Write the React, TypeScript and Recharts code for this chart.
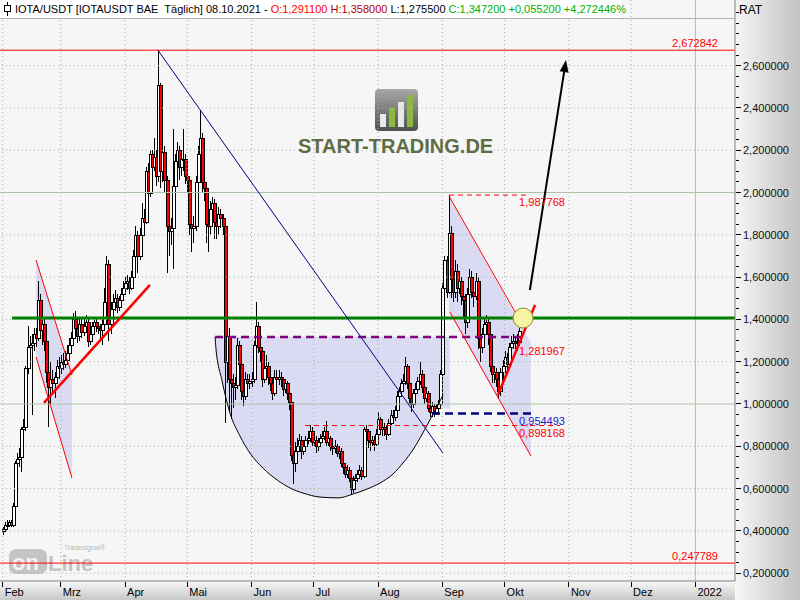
import React from 'react';
import {
  ComposedChart,
  Bar,
  Area,
  Line,
  XAxis,
  YAxis,
  ReferenceLine,
  ReferenceDot
} from 'recharts';

const FONT = '"Liberation Sans", Arial, sans-serif';

// day numbers count from 1 Jan 2021 = 0
const FIRST_DAY = 31;
const FIRST_OPEN = 0.4;

// daily candles, [high, low, close]; open = previous close
const feb = [
  [0.42, 0.38, 0.41], [0.44, 0.4, 0.43], [0.45, 0.42, 0.43], [0.45, 0.42, 0.44], [0.45, 0.42, 0.43],
  [0.53, 0.42, 0.52], [0.73, 0.51, 0.72], [0.77, 0.68, 0.74], [0.79, 0.7, 0.75], [0.89, 0.68, 0.88],
  [0.93, 0.84, 0.89], [1.18, 0.87, 1.17], [1.37, 1.14, 1.27], [1.32, 1.2, 1.28], [1.33, 0.95, 1.29],
  [1.36, 1.25, 1.33], [1.36, 1.27, 1.31], [1.58, 1.3, 1.49], [1.52, 1.32, 1.35], [1.42, 1.28, 1.38],
  [1.41, 1.25, 1.3], [1.32, 1.1, 1.15], [1.18, 0.89, 1.08], [1.2, 1.0, 1.12], [1.16, 1.05, 1.1],
  [1.15, 1.03, 1.13], [1.21, 1.1, 1.18], [1.22, 1.12, 1.17]
];
const mar = [
  [1.23, 1.14, 1.2], [1.24, 1.16, 1.19], [1.25, 1.17, 1.21], [1.28, 1.19, 1.24], [1.31, 1.21, 1.28],
  [1.34, 1.25, 1.31], [1.43, 1.29, 1.4], [1.44, 1.33, 1.36], [1.39, 1.29, 1.32], [1.41, 1.3, 1.38],
  [1.4, 1.31, 1.34], [1.4, 1.32, 1.37], [1.42, 1.34, 1.39], [1.4, 1.27, 1.3], [1.36, 1.28, 1.33],
  [1.39, 1.31, 1.37], [1.41, 1.35, 1.39], [1.4, 1.34, 1.37], [1.39, 1.33, 1.36], [1.38, 1.3, 1.35],
  [1.4, 1.28, 1.38], [1.55, 1.35, 1.48], [1.7, 1.45, 1.66], [1.68, 1.3, 1.38], [1.48, 1.33, 1.45],
  [1.52, 1.42, 1.48], [1.54, 1.44, 1.5], [1.52, 1.43, 1.46], [1.51, 1.44, 1.49], [1.55, 1.46, 1.52],
  [1.58, 1.5, 1.55]
];
const apr = [
  [1.6, 1.52, 1.57], [1.61, 1.54, 1.58], [1.6, 1.52, 1.55], [1.63, 1.54, 1.6], [1.73, 1.58, 1.7],
  [1.84, 1.67, 1.8], [1.82, 1.62, 1.7], [1.83, 1.68, 1.8], [1.95, 1.78, 1.88], [1.92, 1.8, 1.86],
  [2.12, 1.85, 2.1], [2.14, 1.96, 2.0], [2.2, 1.98, 2.18], [2.2, 2.05, 2.12], [2.26, 2.1, 2.17],
  [2.2, 2.03, 2.08], [2.6728, 2.05, 2.51], [2.52, 2.02, 2.1], [2.27, 2.05, 2.19], [2.22, 2.0, 2.06],
  [2.08, 1.62, 1.84], [1.9, 1.7, 1.82], [1.88, 1.75, 1.83], [2.3, 1.64, 2.03], [2.18, 1.99, 2.15],
  [2.24, 2.1, 2.2], [2.22, 2.06, 2.12], [2.19, 2.08, 2.16], [2.3, 2.1, 2.16], [2.18, 2.04, 2.08]
];
const may = [
  [2.11, 2.0, 2.06], [2.08, 1.8, 1.85], [1.9, 1.72, 1.83], [1.89, 1.76, 1.84], [2.08, 1.82, 2.05],
  [2.22, 2.02, 2.18], [2.39, 2.15, 2.26], [2.28, 2.0, 2.05], [2.1, 1.96, 2.02], [2.05, 1.76, 1.85],
  [1.9, 1.72, 1.84], [1.96, 1.8, 1.92], [1.98, 1.84, 1.95], [1.97, 1.78, 1.86], [1.89, 1.78, 1.84],
  [1.93, 1.8, 1.9], [1.92, 1.83, 1.88], [1.9, 1.8, 1.84], [1.86, 0.91, 1.2], [1.4, 1.1, 1.32],
  [1.36, 0.96, 1.12], [1.18, 0.93, 1.1], [1.14, 0.98, 1.08], [1.13, 1.02, 1.09], [1.31, 1.07, 1.28],
  [1.3, 1.15, 1.19], [1.2, 1.02, 1.06], [1.1, 0.99, 1.04], [1.15, 1.02, 1.12], [1.14, 1.06, 1.1],
  [1.14, 1.07, 1.11]
];
const jun = [
  [1.15, 1.08, 1.12], [1.3, 1.1, 1.28], [1.48, 1.26, 1.37], [1.39, 1.24, 1.27], [1.3, 1.2, 1.25],
  [1.27, 1.08, 1.12], [1.22, 1.1, 1.17], [1.23, 1.14, 1.18], [1.2, 1.09, 1.13], [1.16, 1.06, 1.1],
  [1.12, 1.02, 1.05], [1.16, 1.04, 1.13], [1.16, 1.09, 1.12], [1.16, 1.09, 1.13], [1.15, 1.08, 1.12],
  [1.13, 1.04, 1.07], [1.12, 1.05, 1.1], [1.11, 1.02, 1.05], [1.07, 0.97, 1.01], [1.02, 0.73, 0.76],
  [0.8, 0.62, 0.72], [0.82, 0.68, 0.78], [0.84, 0.75, 0.8], [0.86, 0.78, 0.83], [0.85, 0.74, 0.78],
  [0.83, 0.76, 0.8], [0.85, 0.79, 0.83], [0.87, 0.81, 0.84], [0.9, 0.82, 0.87], [0.89, 0.8, 0.82]
];
const jul = [
  [0.86, 0.8, 0.83], [0.85, 0.77, 0.8], [0.84, 0.78, 0.82], [0.86, 0.8, 0.84], [0.87, 0.82, 0.85],
  [0.89, 0.83, 0.87], [0.92, 0.8, 0.82], [0.86, 0.8, 0.84], [0.85, 0.78, 0.8], [0.82, 0.76, 0.79],
  [0.83, 0.77, 0.8], [0.81, 0.75, 0.77], [0.8, 0.74, 0.78], [0.79, 0.7, 0.72], [0.74, 0.67, 0.7],
  [0.71, 0.65, 0.67], [0.71, 0.65, 0.69], [0.7, 0.63, 0.65], [0.66, 0.57, 0.6], [0.66, 0.58, 0.64],
  [0.67, 0.61, 0.65], [0.69, 0.63, 0.67], [0.71, 0.65, 0.69], [0.7, 0.64, 0.66], [0.89, 0.65, 0.88],
  [0.9, 0.84, 0.87], [0.88, 0.79, 0.83], [0.85, 0.78, 0.82], [0.85, 0.8, 0.83], [0.85, 0.78, 0.81],
  [0.88, 0.8, 0.86]
];
const aug = [
  [0.96, 0.85, 0.93], [0.94, 0.86, 0.88], [0.91, 0.85, 0.89], [0.91, 0.85, 0.88], [0.9, 0.83, 0.86],
  [0.93, 0.85, 0.91], [0.97, 0.9, 0.95], [0.97, 0.91, 0.94], [0.99, 0.92, 0.97], [1.06, 0.96, 1.04],
  [1.08, 1.01, 1.06], [1.12, 1.04, 1.1], [1.14, 1.07, 1.11], [1.22, 1.09, 1.18], [1.19, 1.07, 1.1],
  [1.12, 1.0, 1.03], [1.05, 0.96, 1.0], [1.07, 0.98, 1.05], [1.1, 1.03, 1.07], [1.13, 1.05, 1.11],
  [1.2, 1.09, 1.14], [1.16, 1.05, 1.08], [1.1, 1.0, 1.03], [1.07, 1.01, 1.05], [1.06, 0.96, 0.98],
  [1.0, 0.94, 0.96], [1.01, 0.94, 0.99], [1.0, 0.94, 0.96], [1.0, 0.95, 0.98], [1.02, 0.95, 1.0],
  [1.16, 0.99, 1.14]
];
const sep = [
  [1.57, 1.13, 1.55], [1.7, 1.5, 1.68], [1.7, 1.5, 1.53], [1.9878, 1.52, 1.81], [1.84, 1.5, 1.59],
  [1.63, 1.48, 1.53], [1.68, 1.5, 1.63], [1.66, 1.48, 1.55], [1.62, 1.52, 1.58], [1.6, 1.47, 1.51],
  [1.55, 1.4, 1.49], [1.52, 1.33, 1.39], [1.55, 1.36, 1.52], [1.64, 1.48, 1.6], [1.63, 1.5, 1.53],
  [1.56, 1.46, 1.51], [1.62, 1.49, 1.58], [1.6, 1.26, 1.31], [1.36, 1.2, 1.27], [1.36, 1.24, 1.33],
  [1.41, 1.3, 1.38], [1.42, 1.34, 1.39], [1.41, 1.28, 1.33], [1.35, 1.15, 1.18], [1.21, 1.1, 1.14],
  [1.18, 1.1, 1.15], [1.17, 1.08, 1.12], [1.14, 1.03, 1.06], [1.17, 1.04, 1.15], [1.21, 1.12, 1.18]
];
const oct = [
  [1.25, 1.16, 1.22], [1.24, 1.16, 1.19], [1.29, 1.18, 1.27], [1.32, 1.25, 1.29], [1.33, 1.26, 1.3],
  [1.32, 1.26, 1.29], [1.33, 1.25, 1.2911], [1.358, 1.2755, 1.3472]
];

const monthTicks = [31, 59, 90, 120, 151, 181, 212, 243, 273, 304, 334, 365];
const monthLabels = ['Feb', 'Mrz', 'Apr', 'Mai', 'Jun', 'Jul', 'Aug', 'Sep', 'Okt', 'Nov', 'Dez', '2022'];
const priceLabels = [0.2, 0.4, 0.6, 0.8, 1.0, 1.2, 1.4, 1.6, 1.8, 2.0, 2.2, 2.4, 2.6];
const priceGrid = [0.2, 0.4, 0.6, 0.8, 1.2, 1.4, 1.6, 1.8, 2.2, 2.4, 2.6];
const priceSolid = [1.0, 2.0];

// drawn levels
const HIGH_2021 = 2.672842;
const LOW_LINE = 0.247789;
const RESISTANCE = 1.4066;
const NECKLINE = 1.317;
const SEP_HIGH = 1.987768;
const MID_LEVEL = 1.281967;
const SUPPORT_A = 0.954493;
const SUPPORT_B = 0.898168;
const LAST_DAY = 280;

// segments [[day, price], [day, price]]
const downTrend = [[105.9, 2.672], [243.3, 0.768]];
const riseLeft = [[50.9, 1.005], [102.0, 1.563]];
const riseRight = [[269.8, 1.043], [287.7, 1.468]];
const targetArrow = [[285.2, 1.539], [302.6, 2.626]];
const leftUpper = [[47.1, 1.681], [64.4, 1.137]];
const leftLower = [[47.1, 1.222], [64.4, 0.65]];
const rightUpper = [[246.2, 1.983], [283.0, 1.35]];
const rightLower = [[246.6, 1.435], [285.7, 0.754]];

// rounded bottom below the neckline: [day, price]
const bowl = [
  [133.4, 1.317], [133.8, 1.265], [136.7, 1.113], [140.6, 0.957], [145.4, 0.849],
  [150.2, 0.768], [156.5, 0.697], [163.3, 0.641], [169.5, 0.603], [175.8, 0.579],
  [184.0, 0.56], [192.7, 0.556], [199.9, 0.574], [206.7, 0.598], [212.9, 0.626],
  [219.2, 0.669], [224.0, 0.721], [228.8, 0.783], [233.6, 0.863], [237.5, 0.934],
  [240.4, 0.986], [243.3, 1.043]
];
// shaded strip between the end of the bowl and the September channel
const bowlTail = [[240.4, 0.986], [246.6, 0.975]];

const X_DOMAIN = [29.7, 384.1];
const Y_DOMAIN = [0.1631, 2.9102];

const candles: any[] = [];
{
  let prev = FIRST_OPEN;
  let d = FIRST_DAY;
  [feb, mar, apr, may, jun, jul, aug, sep, oct].forEach((m) =>
    m.forEach(([h, l, c]) => {
      candles.push({ d, o: prev, h, l, c });
      prev = c;
      d += 1;
    })
  );
}

const bowlData = bowl.map(([d, v]) => ({ d, lo: v, band: [v, NECKLINE] }));
const tailData = bowlTail.map(([d, v]) => ({ d, band: [v, NECKLINE] }));
const leftChannel = [
  { d: leftUpper[0][0], band: [leftLower[0][1], leftUpper[0][1]] },
  { d: leftUpper[1][0], band: [leftLower[1][1], leftUpper[1][1]] }
];
const rightChannel = [
  { d: rightUpper[0][0], band: [rightLower[0][1], rightUpper[0][1]] },
  { d: rightLower[1][0], band: [rightLower[1][1], 1.29] }
];

const seg = (s: number[][]) => [
  { x: s[0][0], y: s[0][1] },
  { x: s[1][0], y: s[1][1] }
];
const fmt = (v: number) => v.toFixed(6).replace('.', ',');

const minorTicks: number[] = [];
for (let i = 20; i <= 285; i += 5) minorTicks.push(i / 100);

const Candle = (props: any) => {
  const { x, y, width, height, payload } = props;
  if (x == null || !payload) return null;
  const { o, h, l, c } = payload;
  const cx = Math.round(x + width / 2) + 0.5;
  const top = Math.min(y, y + height);
  const span = Math.abs(height);
  const py = (v: number) => top + ((h - v) / (h - l)) * span;
  const b1 = Math.round(Math.min(py(o), py(c))) + 0.5;
  const b2 = Math.max(Math.round(Math.max(py(o), py(c))) + 0.5, b1 + 1);
  return (
    <g shapeRendering="crispEdges">
      <line x1={cx} x2={cx} y1={top} y2={top + span} stroke="#000" strokeWidth={1} />
      <rect x={cx - 1.5} y={b1} width={3} height={b2 - b1} fill={c >= o ? '#ffffff' : '#ff0000'} stroke="#000" strokeWidth={1} />
    </g>
  );
};

const YTick = (props: any) => {
  const { x, y, payload } = props;
  const v = payload.value;
  const major = priceLabels.some((p) => Math.abs(p - v) < 1e-6);
  return (
    <g>
      <line x1={x + 1} x2={x + (major ? 6 : 4)} y1={y} y2={y} stroke="#000" shapeRendering="crispEdges" />
      {major && (
        <text x={x + 8} y={y + 4} fontSize={11} fontFamily={FONT} fill="#111">
          {fmt(v)}
        </text>
      )}
    </g>
  );
};

const XTick = (props: any) => {
  const { x, y, payload } = props;
  const i = monthTicks.indexOf(payload.value);
  return (
    <g>
      <line x1={x} x2={x} y1={y + 1} y2={y + 6} stroke="#000" shapeRendering="crispEdges" />
      <text x={x + 2} y={y + 15} fontSize={11} fontFamily={FONT} fill="#000">
        {monthLabels[i]}
      </text>
    </g>
  );
};

const ArrowShape = (props: any) => {
  const { x1, y1, x2, y2 } = props;
  if (x1 == null) return null;
  const a = Math.atan2(y2 - y1, x2 - x1);
  const L = 12;
  const W = 4.5;
  const bx = x2 - L * Math.cos(a);
  const by = y2 - L * Math.sin(a);
  const px = -Math.sin(a) * W;
  const py = Math.cos(a) * W;
  return (
    <g>
      <line x1={x1} y1={y1} x2={bx} y2={by} stroke="#000" strokeWidth={2} />
      <polygon points={`${x2},${y2} ${bx + px},${by + py} ${bx - px},${by - py}`} fill="#000" />
    </g>
  );
};

const levelLabel = (text: string, color: string) => (p: any) => {
  const vb = p.viewBox || {};
  return (
    <text x={vb.x} y={(vb.y || 0) + 11} fontSize={11} fontFamily={FONT} fill={color}>
      {text}
    </text>
  );
};

const edgeLabel = (text: string, dy: number) => (p: any) => {
  const vb = p.viewBox || {};
  return (
    <text x={vb.x + vb.width - 17} y={vb.y + dy} fontSize={11} fontFamily={FONT} fill="#ff0000" textAnchor="end">
      {text}
    </text>
  );
};

const Logo = () => (
  <div style={{ position: 'absolute', left: 296, top: 88, width: 210, height: 72 }}>
    <svg width={210} height={72}>
      <defs>
        <linearGradient id="logoBox" x1="0" y1="0" x2="0" y2="1">
          <stop offset="0%" stopColor="#a8a8a8" />
          <stop offset="100%" stopColor="#505050" />
        </linearGradient>
      </defs>
      <rect x={79} y={1} width={43} height={42} rx={4} fill="url(#logoBox)" />
      <rect x={84} y={26} width={6} height={13} fill="#e8e8e8" />
      <rect x={93} y={20} width={6} height={19} fill="#8cb83c" />
      <rect x={102} y={14} width={6} height={25} fill="#e8e8e8" />
      <rect x={111} y={7} width={6} height={32} fill="#8cb83c" />
      <text x={2} y={65} fontSize={20} fontWeight="bold" fontFamily={FONT} fill="#5d6c42">
        START-TRADING.DE
      </text>
    </svg>
  </div>
);

const TradesignalMark = () => (
  <div style={{ position: 'absolute', left: 8, top: 540, width: 100, height: 36 }}>
    <svg width={100} height={36}>
      <text x={56} y={10} fontSize={7} fontFamily={FONT} fill="#b8b8b8">
        Tradesignal®
      </text>
      <rect x={1} y={9} width={38} height={25} rx={7} fill="#c4c4c4" />
      <text x={4} y={30} fontSize={22} fontWeight="bold" fontFamily={FONT} fill="#f4f4f4">
        on
      </text>
      <text x={40} y={31} fontSize={22} fontWeight="bold" fontFamily={FONT} fill="#c4c4c4">
        Line
      </text>
    </svg>
  </div>
);

export default function App() {
  return (
    <div
      style={{
        position: 'absolute',
        left: 0,
        top: 0,
        width: 800,
        height: 600,
        overflow: 'hidden',
        background: '#f6f6f6',
        fontFamily: FONT
      }}
    >
      <div
        style={{
          position: 'absolute',
          left: 735,
          top: 0,
          width: 65,
          height: 600,
          background: 'linear-gradient(to right, #f6f6f6, #c2c2c2)'
        }}
      />
      <div
        style={{
          position: 'absolute',
          left: 0,
          top: 581,
          width: 735,
          height: 19,
          background: 'linear-gradient(to bottom, #f8f8f8, #c8c8c8)'
        }}
      />
      <Logo />
      <TradesignalMark />
      <div style={{ position: 'absolute', left: 0, top: 0 }}>
        <ComposedChart width={800} height={600} data={candles} margin={{ top: 0, right: 0, bottom: 0, left: 0 }}>
          <XAxis
            dataKey="d"
            type="number"
            domain={X_DOMAIN}
            allowDataOverflow
            ticks={monthTicks}
            interval={0}
            tick={<XTick />}
            tickLine={false}
            tickSize={0}
            tickMargin={0}
            height={19}
            axisLine={{ stroke: '#808080' }}
          />
          <YAxis
            orientation="right"
            type="number"
            domain={Y_DOMAIN}
            allowDataOverflow
            ticks={minorTicks}
            interval={0}
            tick={<YTick />}
            tickLine={false}
            tickSize={0}
            tickMargin={0}
            width={65}
            axisLine={{ stroke: '#808080' }}
          />

          {priceGrid.map((v) => (
            <ReferenceLine key={`g${v}`} y={v} stroke="#a9b2a9" strokeDasharray="1 3" />
          ))}
          {priceSolid.map((v) => (
            <ReferenceLine key={`s${v}`} y={v} stroke="#adc4a8" />
          ))}
          {monthTicks.map((d) => (
            <ReferenceLine
              key={`m${d}`}
              x={d}
              stroke={d === 365 ? '#adc4a8' : '#a9b2a9'}
              strokeDasharray={d === 365 ? undefined : '1 3'}
            />
          ))}

          <Area data={bowlData} dataKey="band" type="monotone" fill="#dadbf3" fillOpacity={1} stroke="none" isAnimationActive={false} />
          <Area data={tailData} dataKey="band" type="linear" fill="#dadbf3" fillOpacity={1} stroke="none" isAnimationActive={false} />
          <Area data={leftChannel} dataKey="band" type="linear" fill="#dadbf3" fillOpacity={1} stroke="none" isAnimationActive={false} />
          <Area data={rightChannel} dataKey="band" type="linear" fill="#dadbf3" fillOpacity={1} stroke="none" isAnimationActive={false} />
          <Line data={bowlData} dataKey="lo" type="monotone" stroke="#000" strokeWidth={1} dot={false} isAnimationActive={false} />

          <Bar dataKey={(p: any) => [p.l, p.h]} barSize={3} shape={<Candle />} isAnimationActive={false} />

          <ReferenceLine y={HIGH_2021} stroke="#ff0000" label={{ content: edgeLabel('2,672842', -3) }} />
          <ReferenceLine y={LOW_LINE} stroke="#ff0000" label={{ content: edgeLabel('0,247789', -3) }} />
          <ReferenceLine segment={seg([[35.5, RESISTANCE], [X_DOMAIN[1], RESISTANCE]])} stroke="#008000" strokeWidth={3} />
          <ReferenceLine segment={seg([[133.4, NECKLINE], [281.4, NECKLINE]])} stroke="#800080" strokeWidth={2.5} strokeDasharray="8 5" />
          <ReferenceLine segment={seg([[246.2, SEP_HIGH], [285.2, SEP_HIGH]])} stroke="#ff0000" strokeDasharray="5 4" />
          <ReferenceLine segment={seg([[238, SUPPORT_A], [287.7, SUPPORT_A]])} stroke="#000080" strokeWidth={2.5} strokeDasharray="8 5" />
          <ReferenceLine segment={seg([[176.8, SUPPORT_B], [299.7, SUPPORT_B]])} stroke="#ff0000" strokeDasharray="5 4" />

          <ReferenceLine segment={seg(downTrend)} stroke="#000080" strokeWidth={1} />
          <ReferenceLine segment={seg(leftUpper)} stroke="#ff0000" strokeWidth={1} />
          <ReferenceLine segment={seg(leftLower)} stroke="#ff0000" strokeWidth={1} />
          <ReferenceLine segment={seg(rightUpper)} stroke="#ff0000" strokeWidth={1} />
          <ReferenceLine segment={seg(rightLower)} stroke="#ff0000" strokeWidth={1} />
          <ReferenceLine segment={seg(riseLeft)} stroke="#ff0000" strokeWidth={2.5} />
          <ReferenceLine segment={seg(riseRight)} stroke="#ff0000" strokeWidth={2.5} />
          <ReferenceLine segment={seg(targetArrow)} shape={<ArrowShape />} />
          <ReferenceDot x={281.9} y={RESISTANCE} r={10} fill="#f7f3a0" stroke="#8a8a40" strokeWidth={1} />

          <ReferenceDot x={LAST_DAY} y={SEP_HIGH} r={0} stroke="none" label={{ content: levelLabel('1,987768', '#ff0000') }} />
          <ReferenceDot x={LAST_DAY} y={MID_LEVEL} r={0} stroke="none" label={{ content: levelLabel('1,281967', '#ff0000') }} />
          <ReferenceDot x={LAST_DAY} y={SUPPORT_A} r={0} stroke="none" label={{ content: levelLabel('0,954493', '#2020c0') }} />
          <ReferenceDot x={LAST_DAY} y={SUPPORT_B} r={0} stroke="none" label={{ content: levelLabel('0,898168', '#ff0000') }} />
        </ComposedChart>
      </div>

      <div
        style={{
          position: 'absolute',
          left: 0,
          top: 0,
          width: 735,
          height: 18,
          borderBottom: '1px solid #b0b0b0'
        }}
      >
        <div
          style={{
            position: 'absolute',
            left: 0,
            top: 0,
            width: 621,
            height: 18,
            background: '#ffffff',
            fontSize: 11,
            lineHeight: '18px',
            whiteSpace: 'nowrap'
          }}
        >
          <svg width={12} height={18} style={{ position: 'absolute', left: 2, top: 0 }}>
            <line x1={5.5} x2={5.5} y1={2} y2={16} stroke="#000" />
            <rect x={2.5} y={5.5} width={6} height={6} fill="#fff" stroke="#000" />
          </svg>
          <span style={{ position: 'absolute', left: 15, top: 0 }}>
            <span style={{ color: '#000' }}>IOTA/USDT [IOTAUSDT BAE&nbsp; Täglich] 08.10.2021 - </span>
            <span style={{ color: '#ff0000' }}>O:1,291100</span>{' '}
            <span style={{ color: '#b00000' }}>H:1,358000</span>{' '}
            <span style={{ color: '#000' }}>L:1,275500</span>{' '}
            <span style={{ color: '#00b000' }}>C:1,347200 +0,055200 +4,272446%</span>
          </span>
        </div>
      </div>
      <div style={{ position: 'absolute', left: 739, top: 3, fontSize: 12, color: '#000' }}>RAT</div>
    </div>
  );
}
